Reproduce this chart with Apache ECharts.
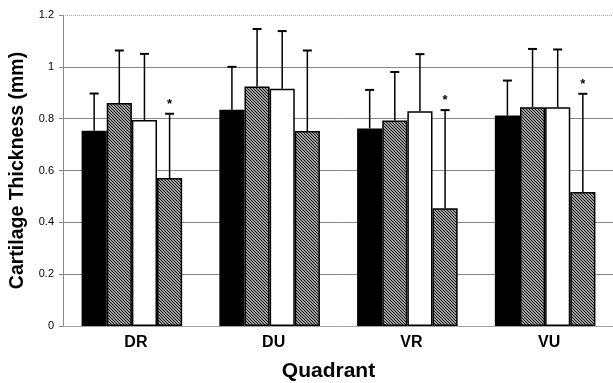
<!DOCTYPE html>
<html>
<head>
<meta charset="utf-8">
<script src="https://cdn.jsdelivr.net/npm/echarts@6/dist/echarts.min.js"></script>
<style>html,body{margin:0;padding:0;background:#fff}#c{width:613px;height:383px}</style>
</head>
<body>
<div id="c"></div>
<script>
// ---- data ----
var categories = ['DR', 'DU', 'VR', 'VU'];
var yTicks = [0, 0.2, 0.4, 0.6, 0.8, 1, 1.2];
var mean1 = [0.753, 0.834, 0.762, 0.812];
var mean2 = [0.860, 0.924, 0.793, 0.844];
var mean3 = [0.795, 0.915, 0.829, 0.844];
var mean4 = [0.571, 0.752, 0.454, 0.517];
var err1 = [0.144, 0.166, 0.149, 0.135];
var err2 = [0.203, 0.222, 0.187, 0.225];
var err3 = [0.255, 0.223, 0.220, 0.223];
var err4 = [0.248, 0.311, 0.379, 0.379];
var star4 = [1, 0, 1, 1];

// ---- hatch pattern ----
function hatch() {
  var c = document.createElement('canvas');
  c.width = 3; c.height = 3;
  var g = c.getContext('2d');
  g.fillStyle = '#d8d8d8'; g.fillRect(0, 0, 3, 3);
  g.strokeStyle = '#111'; g.lineWidth = 1.1;
  g.beginPath();
  g.moveTo(-1, -1); g.lineTo(4, 4);
  g.moveTo(-1, 2); g.lineTo(1, 4);
  g.moveTo(2, -1); g.lineTo(4, 1);
  g.stroke();
  return { image: c, repeat: 'repeat' };
}
var hatchFill = hatch();

var means = [mean1, mean2, mean3, mean4];
var errs = [err1, err2, err3, err4];
var fills = ['#000', hatchFill, '#fff', hatchFill];
var GAP = 0.27;

var errData = [];
for (var k = 0; k < 4; k++) {
  for (var i = 0; i < categories.length; i++) {
    errData.push([i, k, means[k][i], errs[k][i], k === 3 ? star4[i] : 0]);
  }
}

var series = [];
for (var k = 0; k < 4; k++) {
  series.push({
    type: 'bar', name: 'S' + (k + 1), data: means[k],
    barGap: '0%', barCategoryGap: (GAP * 100) + '%',
    itemStyle: { color: fills[k], borderColor: '#000', borderWidth: 1.5 },
    silent: true, animation: false
  });
}
series.push({
  type: 'custom', animation: false, silent: true,
  encode: { x: 0, y: 2 },
  data: errData,
  z: 5,
  renderItem: function (params, api) {
    var cat = api.value(0), k = api.value(1), m = api.value(2), e = api.value(3), st = api.value(4);
    var band = api.size([1, 0])[0];
    var bw = band * (1 - GAP) / 4;
    var base = api.coord([cat, m]);
    var top = api.coord([cat, m + e]);
    var x = base[0] + (k - 1.5) * bw;
    var children = [
      { type: 'line', shape: { x1: x, y1: base[1], x2: x, y2: top[1] }, style: { stroke: '#000', lineWidth: 1.5 } },
      { type: 'line', shape: { x1: x - 4.5, y1: top[1], x2: x + 4.5, y2: top[1] }, style: { stroke: '#000', lineWidth: 2 } }
    ];
    if (st) {
      children.push({ type: 'text', style: { text: '*', x: x, y: top[1] - 3, textAlign: 'center', textVerticalAlign: 'bottom', font: 'bold 13px "Liberation Sans", Arial', fill: '#000' } });
    }
    return { type: 'group', children: children };
  }
});
series[0].markLine = {
  silent: true, symbol: 'none', label: { show: false },
  lineStyle: { color: '#aaa', type: 'dotted', width: 1 },
  data: [{ yAxis: yTicks[yTicks.length - 1] }]
};

var chart = echarts.init(document.getElementById('c'), null, { renderer: 'canvas' });
chart.setOption({
  animation: false,
  backgroundColor: '#fff',
  grid: { left: 63, top: 15, bottom: 57, width: 551, containLabel: false, outerBoundsMode: 'none' },
  xAxis: {
    type: 'category', data: categories,
    name: 'Quadrant', nameLocation: 'middle', nameGap: 35,
    nameTextStyle: { fontFamily: '"Liberation Sans", Arial', fontWeight: 'bold', fontSize: 21, color: '#000', padding: [0, 20, 0, 0] },
    axisLine: { lineStyle: { color: '#aaa', type: 'dotted', width: 1 } },
    axisTick: { show: false },
    axisLabel: { margin: 9, fontFamily: '"Liberation Sans", Arial', fontWeight: 'bold', fontSize: 16, color: '#000', padding: [0, 0, 0, 8] }
  },
  yAxis: {
    type: 'value', min: yTicks[0], max: yTicks[yTicks.length - 1], interval: 0.2,
    name: 'Cartilage Thickness (mm)', nameLocation: 'middle', nameGap: 35, nameRotate: 90,
    nameTextStyle: { fontFamily: '"Liberation Sans", Arial', fontWeight: 'bold', fontSize: 19.5, color: '#000' },
    axisLine: { show: true, lineStyle: { color: '#888', width: 1 } },
    axisTick: { show: true, inside: false, length: 4, lineStyle: { color: '#888' } },
    axisLabel: { margin: 9, fontFamily: '"Liberation Sans", Arial', fontSize: 11, color: '#000',
      formatter: function (v) { return String(Math.round(v * 10) / 10); } },
    splitLine: { show: true, showMaxLine: false, lineStyle: { color: '#888', width: 1 } }
  },
  series: series
});
</script>
</body>
</html>
